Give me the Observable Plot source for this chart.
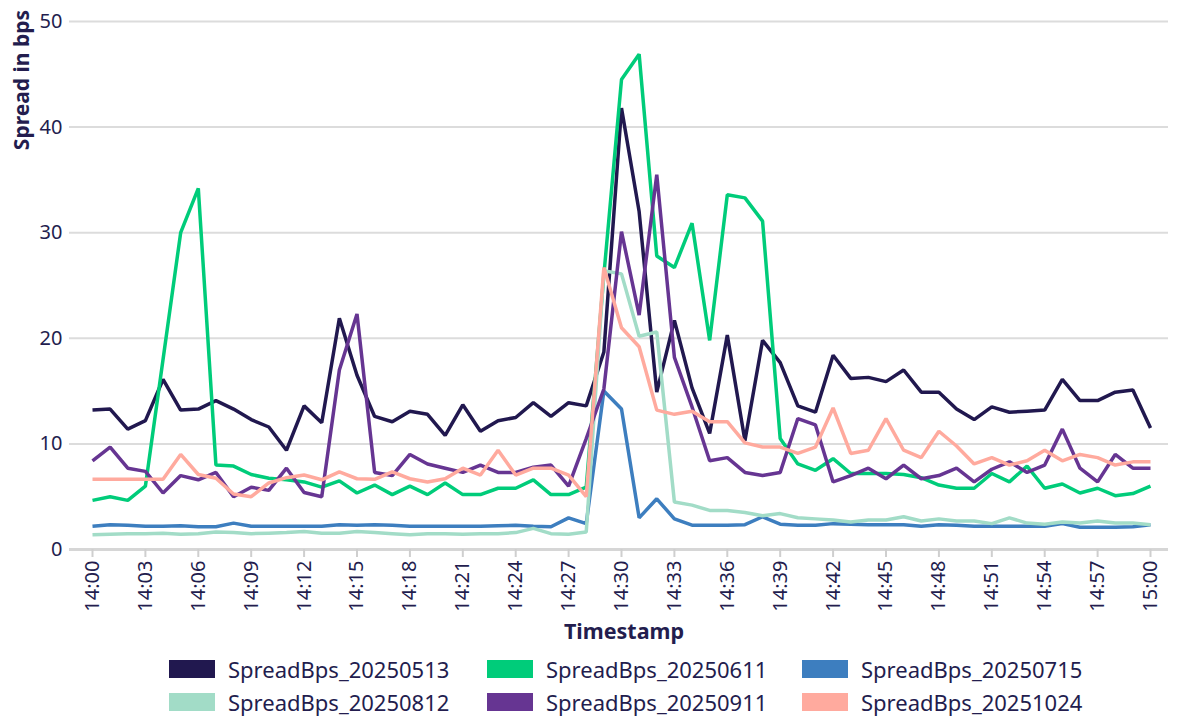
<!DOCTYPE html>
<html><head><meta charset="utf-8">
<script src="https://cdn.jsdelivr.net/npm/d3@7"></script>
<script src="https://cdn.jsdelivr.net/npm/@observablehq/plot@0.6"></script>
<style>
body{margin:0;background:#fff;font-family:"Noto Sans",sans-serif;color:#231d4e;}
#legend{position:relative;height:73px;width:1179px;}
.item{position:absolute;display:flex;align-items:center;font-size:22px;line-height:24px;height:24px;white-space:nowrap;}
.sw{width:46px;height:18px;margin-right:13px;flex:none;}
</style></head><body><div id="chart"></div><div id="legend"></div>
<script>
const times = ["14:00","14:01","14:02","14:03","14:04","14:05","14:06","14:07","14:08","14:09",
"14:10","14:11","14:12","14:13","14:14","14:15","14:16","14:17","14:18","14:19",
"14:20","14:21","14:22","14:23","14:24","14:25","14:26","14:27","14:28","14:29",
"14:30","14:31","14:32","14:33","14:34","14:35","14:36","14:37","14:38","14:39",
"14:40","14:41","14:42","14:43","14:44","14:45","14:46","14:47","14:48","14:49",
"14:50","14:51","14:52","14:53","14:54","14:55","14:56","14:57","14:58","14:59","15:00"];

const s20250513 = [13.2,13.3,11.4,12.2,16.1,13.2,13.3,14.1,13.3,12.3,
11.6,9.4,13.6,12.0,21.9,16.5,12.6,12.1,13.1,12.8,
10.8,13.7,11.2,12.2,12.5,13.9,12.6,13.9,13.6,18.7,
41.8,32.0,14.9,21.7,15.3,11.0,20.3,10.3,19.8,17.7,
13.6,13.0,18.4,16.2,16.3,15.9,17.0,14.9,14.9,13.3,
12.3,13.5,13.0,13.1,13.2,16.1,14.1,14.1,14.9,15.1,11.5];
const s20250611 = [4.65,5.0,4.65,6.0,18.0,30.0,34.2,8.0,7.9,7.1,
6.75,6.6,6.4,5.9,6.5,5.35,6.1,5.2,6.0,5.2,
6.3,5.2,5.2,5.8,5.8,6.6,5.2,5.2,5.9,26.0,
44.5,46.9,27.8,26.7,30.9,19.8,33.6,33.3,31.1,10.5,
8.1,7.5,8.6,7.2,7.2,7.2,7.1,6.8,6.1,5.8,
5.8,7.2,6.4,7.9,5.8,6.2,5.35,5.8,5.1,5.3,6.0];
const s20250715 = [2.2,2.35,2.3,2.2,2.2,2.25,2.15,2.15,2.5,2.2,
2.2,2.2,2.2,2.2,2.35,2.3,2.35,2.3,2.2,2.2,
2.2,2.2,2.2,2.25,2.3,2.2,2.15,3.0,2.45,15.0,
13.3,3.0,4.8,2.9,2.3,2.3,2.3,2.35,3.1,2.4,
2.3,2.3,2.45,2.4,2.35,2.35,2.35,2.2,2.35,2.3,
2.2,2.2,2.2,2.2,2.2,2.45,2.1,2.1,2.1,2.15,2.35];
const s20250812 = [1.4,1.45,1.5,1.5,1.55,1.45,1.5,1.65,1.6,1.5,
1.55,1.6,1.7,1.55,1.55,1.7,1.6,1.5,1.4,1.5,
1.5,1.45,1.5,1.5,1.6,2.0,1.5,1.45,1.65,26.4,
26.1,20.2,20.6,4.5,4.2,3.7,3.7,3.5,3.2,3.4,
3.0,2.9,2.8,2.6,2.8,2.8,3.1,2.7,2.9,2.7,
2.7,2.45,3.0,2.5,2.4,2.6,2.5,2.7,2.5,2.5,2.35];
const s20250911 = [8.4,9.7,7.7,7.4,5.35,7.0,6.6,7.3,5.0,5.9,
5.6,7.7,5.4,5.0,17.0,22.3,7.3,7.0,9.0,8.1,
7.7,7.3,8.0,7.3,7.3,7.8,8.0,6.0,10.5,15.2,
30.1,22.2,35.5,18.2,13.5,8.4,8.7,7.3,7.0,7.3,
12.4,11.8,6.4,7.0,7.7,6.7,8.0,6.7,7.0,7.7,
6.4,7.6,8.3,7.3,8.0,11.4,7.7,6.4,9.0,7.7,7.7];
const s20251024 = [6.65,6.65,6.65,6.65,6.65,9.0,7.1,6.75,5.25,5.0,
6.3,6.8,7.05,6.6,7.35,6.7,6.65,7.35,6.7,6.4,
6.7,7.7,7.05,9.4,7.05,7.7,7.7,7.05,5.0,26.7,
21.0,19.2,13.2,12.8,13.1,12.1,12.1,10.1,9.7,9.7,
9.1,9.7,13.4,9.1,9.4,12.4,9.4,8.7,11.2,9.8,
8.1,8.7,8.0,8.4,9.4,8.4,9.0,8.7,8.0,8.3,8.3];

const seriesNames = ["SpreadBps_20250513","SpreadBps_20250611","SpreadBps_20250715","SpreadBps_20250812","SpreadBps_20250911","SpreadBps_20251024"];
const seriesValues = [s20250513,s20250611,s20250715,s20250812,s20250911,s20251024];
const seriesColors = ["#21184f","#00cc7a","#3d7ebf","#a2dcc7","#663592","#ffaa9e"];
const yTicks = [0,10,20,30,40,50];
const xTickLabels = ["14:00","14:03","14:06","14:09","14:12","14:15","14:18","14:21","14:24","14:27",
"14:30","14:33","14:36","14:39","14:42","14:45","14:48","14:51","14:54","14:57","15:00"];
const xTitle = "Timestamp";
const yTitle = "Spread in bps";

const toDate = s => new Date(`2025-01-01T${s}:00Z`);
const rows = [];
seriesNames.forEach((name, k) => seriesValues[k].forEach((v, i) => rows.push({t: toDate(times[i]), v, name})));

const textColor = "#231d4e";
const plot = Plot.plot({
  width: 1179, height: 645,
  marginLeft: 69, marginRight: 11, marginTop: 21, marginBottom: 96,
  style: {fontFamily: '"Noto Sans", sans-serif', fontSize: "20px", color: textColor, background: "#fff"},
  x: {type: "utc", domain: [toDate(times[0]), toDate(times[times.length - 1])], insetLeft: 23, insetRight: 18},
  y: {domain: [0, 50]},
  color: {domain: seriesNames, range: seriesColors},
  marks: [
    Plot.gridY(yTicks, {stroke: "#dcdcdc", strokeOpacity: 1, strokeWidth: 2}),
    Plot.ruleY([0], {stroke: "#d6d6d6", strokeWidth: 3}),
    Plot.axisY(yTicks, {tickSize: 0, tickPadding: 7, label: null, fill: textColor}),
    Plot.axisX(xTickLabels.map(toDate), {tickSize: 8, tickPadding: 3, tickRotate: -90,
      tickFormat: d3.utcFormat("%H:%M"), label: null, stroke: "#cfcfcf", strokeWidth: 2, fill: textColor}),
    Plot.line(rows, {x: "t", y: "v", z: "name", stroke: "name", strokeWidth: 3.5,
      strokeLinejoin: "miter", strokeLinecap: "butt"})
  ]
});
document.getElementById("chart").appendChild(plot);

const svg = d3.select(plot);
const xs = plot.scale("x");
const xMid = (xs.apply(toDate(times[0])) + xs.apply(toDate(times[times.length - 1]))) / 2;
svg.append("text").attr("transform", "translate(29,10) rotate(-90)")
  .attr("text-anchor", "end").attr("font-weight", "bold").attr("font-size", 21)
  .attr("fill", textColor).text(yTitle);
svg.append("text").attr("x", xMid + 3).attr("y", 639)
  .attr("text-anchor", "middle").attr("font-weight", "bold").attr("font-size", 21.5)
  .attr("fill", textColor).text(xTitle);

const legend = document.getElementById("legend");
const colX = [169, 487, 802];
const rowY = [12, 45];
seriesNames.forEach((name, k) => {
  const item = document.createElement("div");
  item.className = "item";
  item.style.left = colX[k % 3] + "px";
  item.style.top = rowY[Math.floor(k / 3)] + "px";
  const sw = document.createElement("span");
  sw.className = "sw";
  sw.style.background = seriesColors[k];
  const label = document.createElement("span");
  label.textContent = name;
  item.appendChild(sw); item.appendChild(label);
  legend.appendChild(item);
});
</script></body></html>
